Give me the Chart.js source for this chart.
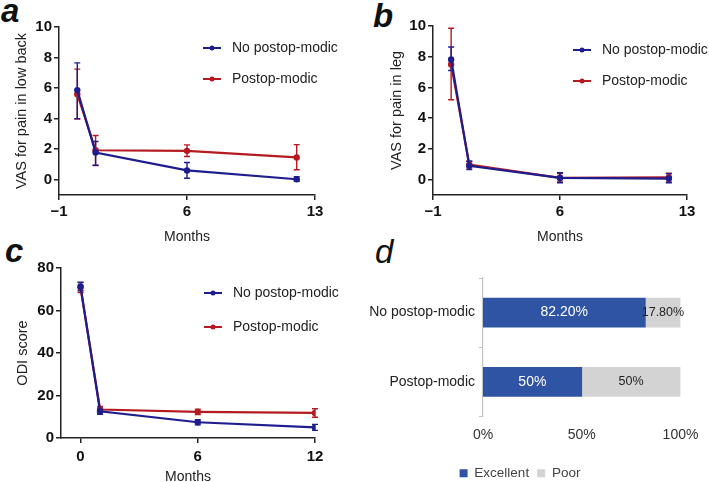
<!DOCTYPE html>
<html>
<head>
<meta charset="utf-8">
<script src="https://cdn.jsdelivr.net/npm/chart.js@4.4.1/dist/chart.umd.min.js"></script>
<style>
  body { margin: 0; background: #fff; width: 709px; height: 482px; position: relative; overflow: hidden; font-family: 'Liberation Sans', Arial, sans-serif; }
  canvas { position: absolute; }
  .lbl { position: absolute; font-size: 33px; line-height: 33px; font-style: italic; font-weight: bold; color: #111; }
</style>
</head>
<body>
<div class="lbl" style="left:1px;top:-6px">a</div>
<div class="lbl" style="left:373px;top:-1px">b</div>
<div class="lbl" style="left:5px;top:234px">c</div>
<div class="lbl" style="left:375px;top:235px;font-weight:normal">d</div>

<canvas id="chartA" width="355" height="246" style="left:0;top:0"></canvas>
<canvas id="chartB" width="354" height="246" style="left:355px;top:0"></canvas>
<canvas id="chartC" width="355" height="250" style="left:0;top:236px"></canvas>
<canvas id="chartD" width="354" height="262" style="left:355px;top:230px"></canvas>

<script>
// follow-up time points (months)
const months = [0, 1, 6, 12];

// a: VAS low back
const backNo = [5.87, 1.78, 0.61, 0.03];
const backNoLo = [4.0, 0.95, 0.1, -0.1];
const backNoHi = [7.65, 2.5, 1.13, 0.2];
const backPo = [5.6, 1.93, 1.89, 1.46];
const backPoLo = [3.98, 0.93, 1.52, 0.65];
const backPoHi = [7.24, 2.9, 2.28, 2.3];

// b: VAS leg
const legNo = [7.82, 0.9, 0.11, 0.07];
const legNoLo = [7.1, 0.65, -0.2, -0.2];
const legNoHi = [8.63, 1.2, 0.45, 0.38];
const legPo = [7.5, 0.98, 0.12, 0.15];
const legPoLo = [5.2, 0.75, -0.15, -0.15];
const legPoHi = [9.85, 1.2, 0.4, 0.42];

// c: ODI score
const odiNo = [71.3, 12.6, 7.4, 5.0];
const odiNoLo = [69.3, 11.2, 6.2, 3.6];
const odiNoHi = [73.3, 14.0, 8.6, 6.4];
const odiPo = [70.8, 13.4, 12.3, 11.8];
const odiPoLo = [68.5, 11.9, 11.0, 9.8];
const odiPoHi = [73.1, 14.9, 13.6, 13.8];

// tick labels
const xTicksAB = [-1, 6, 13];
const yTicksAB = [0, 2, 4, 6, 8, 10];
const xTicksC = [0, 6, 12];
const yTicksC = [0, 20, 40, 60, 80];

// d: outcome
const groups = ['No postop-modic', 'Postop-modic'];
const excellent = [82.2, 50];
const poor = [17.8, 50];
const excellentText = ['82.20%', '50%'];
const poorText = ['17.80%', '50%'];
const pctTicks = [0, 50, 100];

const NAVY = '#1d1d8e';
const RED = '#b51a20';
const FONT = '"Liberation Sans", Arial, sans-serif';

Chart.defaults.font.family = FONT;
Chart.defaults.color = '#222';

const errorBars = {
  id: 'errorBars',
  beforeDatasetsDraw(chart) {
    const { ctx, scales: { x, y } } = chart;
    chart.data.datasets.slice().reverse().forEach((ds) => {
      ctx.save();
      ctx.strokeStyle = ds.borderColor;
      ctx.lineWidth = 1.4;
      ds.data.forEach((p, j) => {
        const px = x.getPixelForValue(p.x);
        const top = y.getPixelForValue(ds.hi[j]);
        const bot = y.getPixelForValue(ds.lo[j]);
        ctx.beginPath();
        ctx.moveTo(px, top); ctx.lineTo(px, bot);
        ctx.moveTo(px - 3, top); ctx.lineTo(px + 3, top);
        ctx.moveTo(px - 3, bot); ctx.lineTo(px + 3, bot);
        ctx.stroke();
      });
      ctx.restore();
    });
  }
};

const keyAt = {
  id: 'keyAt',
  afterDraw(chart, args, opts) {
    const ctx = chart.ctx;
    chart.data.datasets.forEach((ds, i) => {
      const y = opts.y + i * opts.gap;
      ctx.save();
      ctx.strokeStyle = ds.borderColor;
      ctx.lineWidth = 2;
      ctx.beginPath();
      ctx.moveTo(opts.x, y); ctx.lineTo(opts.x + 18, y);
      ctx.stroke();
      ctx.fillStyle = ds.borderColor;
      ctx.beginPath();
      ctx.arc(opts.x + 9, y, 2.5, 0, Math.PI * 2);
      ctx.fill();
      ctx.fillStyle = '#222';
      ctx.font = '14px ' + FONT;
      ctx.textBaseline = 'middle';
      ctx.fillText(ds.label, opts.x + 29, y);
      ctx.restore();
    });
  }
};

const pts = (ys) => months.map((m, i) => ({ x: m, y: ys[i] }));

const lineChart = (id, c) => new Chart(document.getElementById(id), {
  type: 'line',
  data: {
    datasets: [
      { label: 'No postop-modic', data: pts(c.no), lo: c.noLo, hi: c.noHi, borderColor: NAVY, backgroundColor: NAVY },
      { label: 'Postop-modic', data: pts(c.po), lo: c.poLo, hi: c.poHi, borderColor: RED, backgroundColor: RED },
    ],
  },
  options: {
    responsive: false,
    animation: false,
    layout: { padding: c.pad },
    elements: {
      line: { borderWidth: 2.2, tension: 0 },
      point: { radius: 3.2, borderWidth: 0 },
    },
    plugins: { legend: { display: false }, tooltip: { enabled: false }, keyAt: c.key },
    scales: {
      x: {
        type: 'linear',
        min: -1,
        max: c.xTicks[c.xTicks.length - 1],
        afterBuildTicks: (ax) => { ax.ticks = c.xTicks.map((v) => ({ value: v })); },
        afterFit: (ax) => { ax.height = c.xh; },
        border: { color: '#222', width: 1.5 },
        grid: { drawOnChartArea: false, tickLength: 5, color: '#222', lineWidth: 1.5 },
        ticks: {
          autoSkip: false, maxRotation: 0, padding: c.xpad, color: '#111',
          font: { size: 15, weight: 'bold' },
          callback: (v) => (v < 0 ? '\u2212' + -v : v),
        },
        title: { display: true, text: 'Months', color: '#222', font: { size: 14 }, padding: { top: c.tpad, bottom: 0 } },
      },
      y: {
        min: c.ymin,
        max: c.yTicks[c.yTicks.length - 1],
        afterBuildTicks: (ax) => { ax.ticks = c.yTicks.map((v) => ({ value: v })); },
        afterFit: (ax) => { ax.width = c.yw; },
        border: { color: '#222', width: 1.5 },
        grid: { drawOnChartArea: false, tickLength: 5, color: '#222', lineWidth: 1.5 },
        ticks: { padding: 2, color: '#111', font: { size: 15, weight: 'bold' } },
        title: { display: true, text: c.ytitle, color: '#222', font: { size: 14.5 }, padding: { top: c.ytpad, bottom: 0 } },
      },
    },
  },
  plugins: [errorBars, keyAt],
});

lineChart('chartA', {
  no: backNo, noLo: backNoLo, noHi: backNoHi, po: backPo, poLo: backPoLo, poHi: backPoHi,
  xTicks: xTicksAB, yTicks: yTicksAB, ymin: -1, ytitle: 'VAS for pain in low back',
  pad: { top: 27, right: 40, left: 0, bottom: 0 }, yw: 59, xh: 51, xpad: 3, tpad: 3.6, ytpad: 13,
  key: { x: 203, y: 48, gap: 31 },
});

lineChart('chartB', {
  no: legNo, noLo: legNoLo, noHi: legNoHi, po: legPo, poLo: legPoLo, poHi: legPoHi,
  xTicks: xTicksAB, yTicks: yTicksAB, ymin: -1, ytitle: 'VAS for pain in leg',
  pad: { top: 26, right: 22, left: 0, bottom: 0 }, yw: 78, xh: 51, xpad: 3, tpad: 3.6, ytpad: 33,
  key: { x: 218, y: 50, gap: 31 },
});

lineChart('chartC', {
  no: odiNo, noLo: odiNoLo, noHi: odiNoHi, po: odiPo, poLo: odiPoLo, poHi: odiPoHi,
  xTicks: xTicksC, yTicks: yTicksC, ymin: 0, ytitle: 'ODI score',
  pad: { top: 32, right: 40, left: 0, bottom: 0 }, yw: 61, xh: 48, xpad: 5, tpad: 2.6, ytpad: 14,
  key: { x: 204, y: 57, gap: 34 },
});

const barText = {
  id: 'barText',
  afterDatasetsDraw(chart) {
    const ctx = chart.ctx;
    const texts = [excellentText, poorText];
    chart.data.datasets.forEach((ds, i) => {
      chart.getDatasetMeta(i).data.forEach((bar, j) => {
        ctx.save();
        ctx.fillStyle = i === 0 ? '#fff' : '#222';
        ctx.font = (i === 0 ? '14px ' : '12.5px ') + FONT;
        ctx.textAlign = 'center';
        ctx.textBaseline = 'middle';
        ctx.fillText(texts[i][j], (bar.x + bar.base) / 2, bar.y);
        ctx.restore();
      });
    });
  }
};

new Chart(document.getElementById('chartD'), {
  type: 'bar',
  data: {
    labels: groups,
    datasets: [
      { label: 'Excellent', data: excellent, backgroundColor: '#2f54a3', barThickness: 29 },
      { label: 'Poor', data: poor, backgroundColor: '#d3d3d3', barThickness: 29 },
    ],
  },
  options: {
    indexAxis: 'y',
    responsive: false,
    animation: false,
    layout: { padding: { top: 48, right: 24, left: 0, bottom: 2 } },
    plugins: {
      tooltip: { enabled: false },
      legend: {
        position: 'bottom',
        labels: { boxWidth: 8, boxHeight: 8, color: '#444', font: { size: 13.5 }, padding: 8 },
      },
    },
    scales: {
      x: {
        stacked: true, min: 0, max: 100,
        afterBuildTicks: (ax) => { ax.ticks = pctTicks.map((v) => ({ value: v })); },
        afterFit: (ax) => { ax.height = 42; },
        border: { display: false },
        grid: { display: false, drawTicks: false },
        ticks: { padding: 10.6, color: '#333', font: { size: 14 }, callback: (v) => v + '%' },
      },
      y: {
        stacked: true,
        afterFit: (ax) => { ax.width = 128; },
        border: { color: '#c4c4c4', width: 1.2 },
        grid: { drawOnChartArea: false, tickLength: 4, color: '#c4c4c4', offset: true },
        ticks: { padding: 4, color: '#222', font: { size: 14 } },
      },
    },
  },
  plugins: [barText],
});
</script>
</body>
</html>
